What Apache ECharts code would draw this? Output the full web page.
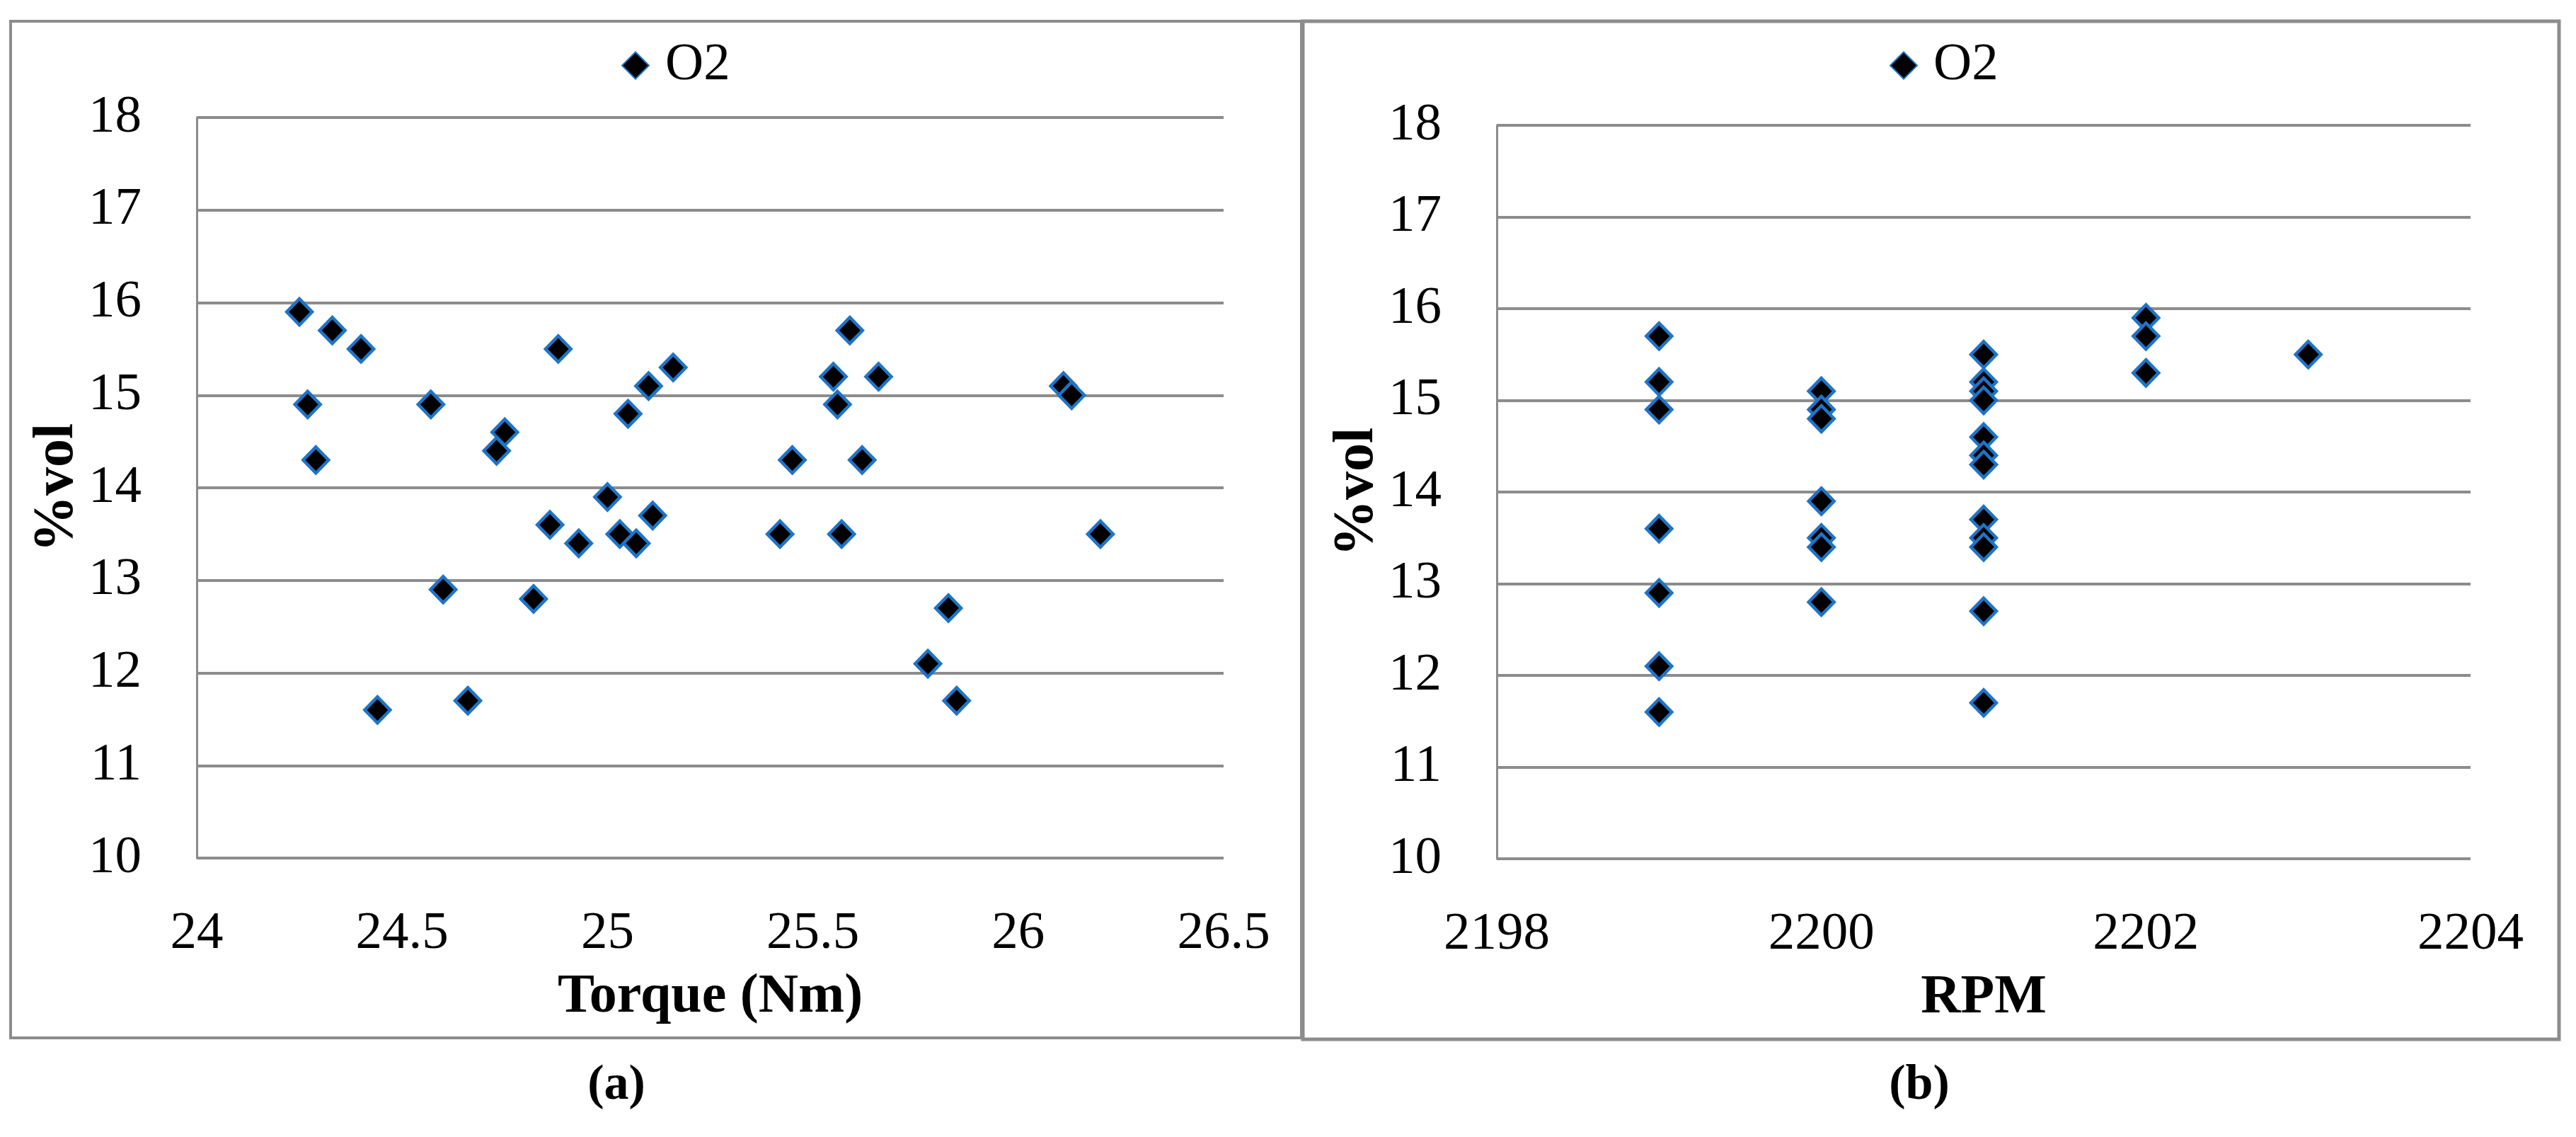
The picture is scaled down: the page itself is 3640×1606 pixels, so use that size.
<!DOCTYPE html>
<html>
<head>
<meta charset="utf-8">
<script src="https://cdn.jsdelivr.net/npm/echarts@6/dist/echarts.min.js"></script>
<style>
html,body{margin:0;padding:0;background:#fff;}
#chart{width:3640px;height:1606px;}
</style>
</head>
<body>
<div id="chart"></div>
<script>
// ---- data ----
const torqueX = [24.25, 24.33, 24.40, 24.27, 24.29, 24.57, 24.75, 24.73, 24.88, 25.05, 25.10, 25.16,
                 24.86, 24.93, 25.00, 25.03, 25.07, 25.11, 25.42, 25.45, 25.55, 25.56, 25.59, 25.57,
                 25.62, 25.66, 26.11, 26.13, 26.20, 24.60, 24.82, 24.44, 24.66, 25.83, 25.78, 25.85];
const torqueO2 = [15.9, 15.7, 15.5, 14.9, 14.3, 14.9, 14.6, 14.4, 15.5, 14.8, 15.1, 15.3,
                  13.6, 13.4, 13.9, 13.5, 13.4, 13.7, 13.5, 14.3, 15.2, 14.9, 15.7, 13.5,
                  14.3, 15.2, 15.1, 15.0, 13.5, 12.9, 12.8, 11.6, 11.7, 12.7, 12.1, 11.7];
const rpmX = [2199, 2199, 2199, 2199, 2199, 2199, 2199,
              2200, 2200, 2200, 2200, 2200, 2200, 2200,
              2201, 2201, 2201, 2201, 2201, 2201, 2201, 2201, 2201, 2201, 2201, 2201,
              2202, 2202, 2202,
              2203];
const rpmO2 = [15.7, 15.2, 14.9, 13.6, 12.9, 12.1, 11.6,
               15.1, 14.9, 14.8, 13.9, 13.5, 13.4, 12.8,
               15.5, 15.2, 15.1, 15.0, 14.6, 14.4, 14.3, 13.7, 13.5, 13.4, 12.7, 11.7,
               15.9, 15.7, 15.3,
               15.5];
const seriesName = 'O2';
const yAxisName = '%vol';
const xNameA = 'Torque (Nm)';
const xNameB = 'RPM';
const panelLabels = ['(a)', '(b)'];

// ---- styles ----
const FONT = "'Liberation Serif', 'DejaVu Serif', serif";
const GRAY = '#8c8c8c';
const BLUE = '#1f74c7';

function pairs(xs, ys) { return xs.map((x, i) => [x, ys[i]]); }

function yAxisCfg(gridIndex) {
  return {
    type: 'value', gridIndex: gridIndex, min: 10, max: 18, interval: 1,
    name: yAxisName, nameLocation: 'middle', nameGap: 154, nameRotate: 90,
    nameTextStyle: { fontFamily: FONT, fontWeight: 'bold', fontSize: 80, color: '#000' },
    axisLine: { show: true, lineStyle: { color: GRAY, width: 3 } },
    axisTick: { show: false },
    axisLabel: { fontFamily: FONT, fontSize: 75, color: '#000', margin: 78 },
    splitLine: { show: true, lineStyle: { color: GRAY, width: 4 } }
  };
}
function xAxisCfg(gridIndex, min, max, interval, name) {
  return {
    type: 'value', gridIndex: gridIndex, min: min, max: max, interval: interval,
    name: name, nameLocation: 'middle', nameGap: 158,
    nameTextStyle: { fontFamily: FONT, fontWeight: 'bold', fontSize: 78, color: '#000' },
    axisLine: { show: false },
    axisTick: { show: false },
    axisLabel: { fontFamily: FONT, fontSize: 75, color: '#000', margin: 70,
                 formatter: function (v) { return String(v); } },
    splitLine: { show: false }
  };
}
function seriesCfg(idx, data) {
  return {
    name: seriesName, type: 'scatter', xAxisIndex: idx, yAxisIndex: idx,
    data: data, symbol: 'diamond', symbolSize: [36, 37],
    itemStyle: { color: '#000', borderColor: BLUE, borderWidth: 4.5, opacity: 1 },
    emphasis: { disabled: true }
  };
}
function legendCfg(left) {
  return {
    left: left, top: 50, orient: 'horizontal',
    data: [{ name: seriesName, icon: 'diamond' }],
    itemWidth: 38, itemHeight: 38,
    textStyle: { fontFamily: FONT, fontSize: 75, color: '#000', padding: [0, 0, 0, 18] },
    selectedMode: false
  };
}

const chart = echarts.init(document.getElementById('chart'), null, { renderer: 'canvas' });
chart.setOption({
  animation: false,
  backgroundColor: '#fff',
  grid: [
    { left: 278, top: 166, width: 1451, height: 1046 },
    { left: 2115, top: 177, width: 1376, height: 1036 }
  ],
  xAxis: [
    xAxisCfg(0, 24, 26.5, 0.5, xNameA),
    xAxisCfg(1, 2198, 2204, 2, xNameB)
  ],
  yAxis: [yAxisCfg(0), yAxisCfg(1)],
  legend: [legendCfg(873), legendCfg(2665)],
  series: [
    seriesCfg(0, pairs(torqueX, torqueO2)),
    seriesCfg(1, pairs(rpmX, rpmO2))
  ],
  graphic: [
    { type: 'rect', shape: { x: 15, y: 30, width: 1824, height: 1436 }, style: { fill: null, stroke: GRAY, lineWidth: 4 }, silent: true, z: -1 },
    { type: 'rect', shape: { x: 1841, y: 30, width: 1775, height: 1438 }, style: { fill: null, stroke: GRAY, lineWidth: 5 }, silent: true, z: -1 },
    { type: 'text', x: 871, y: 1534, style: { text: panelLabels[0], font: "bold 70px 'Liberation Serif'", fill: '#000', textAlign: 'center', textVerticalAlign: 'middle' }, silent: true },
    { type: 'text', x: 2712, y: 1534, style: { text: panelLabels[1], font: "bold 70px 'Liberation Serif'", fill: '#000', textAlign: 'center', textVerticalAlign: 'middle' }, silent: true }
  ]
});
</script>
</body>
</html>
